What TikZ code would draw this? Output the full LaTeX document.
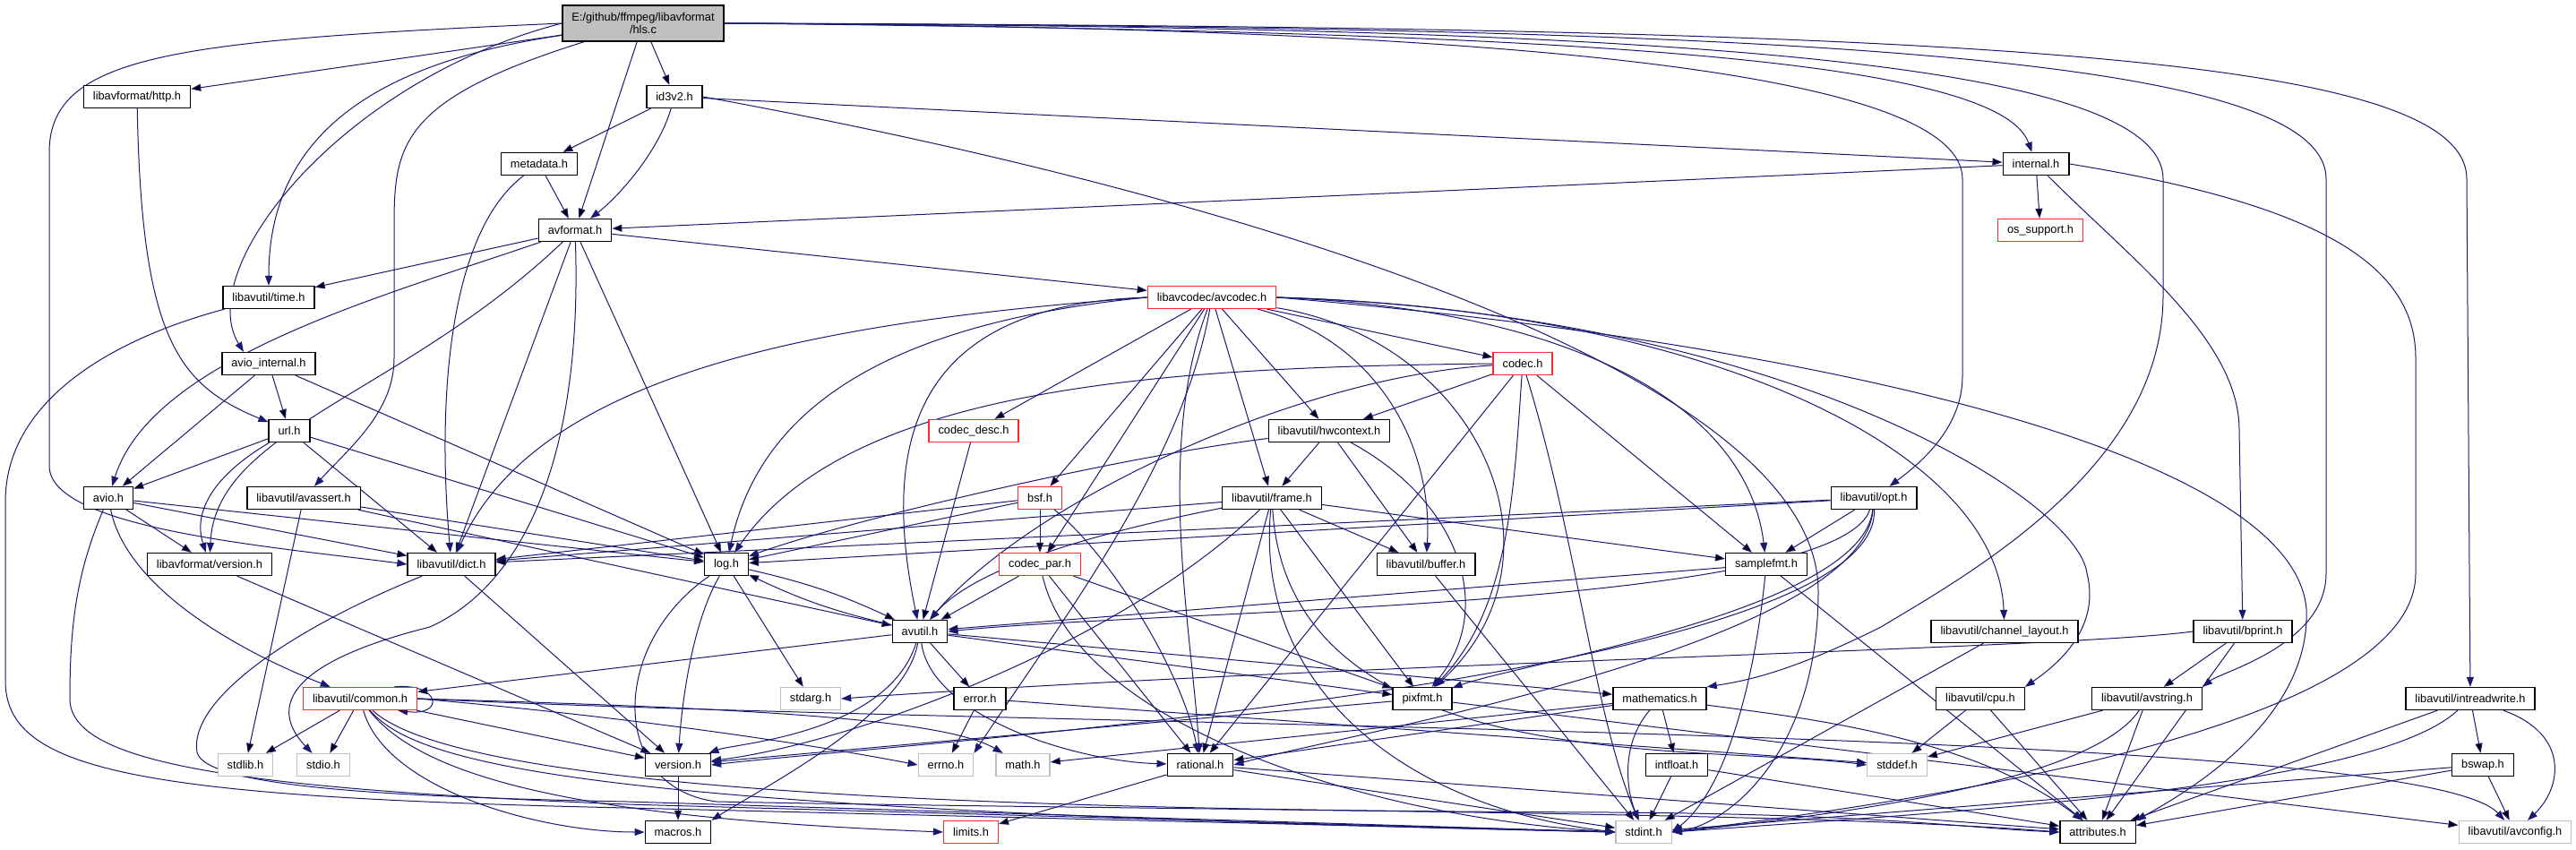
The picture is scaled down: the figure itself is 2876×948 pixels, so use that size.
\documentclass[tikz,border=0pt]{standalone}
\usepackage{fontspec}
\newfontfamily\hfont{Liberation Sans}
\usetikzlibrary{arrows.meta, backgrounds}
\definecolor{cEdge}{RGB}{25,25,112}
\definecolor{cTrunc}{RGB}{255,40,40}
\definecolor{cMiss}{RGB}{191,191,191}
\definecolor{cRoot}{RGB}{191,191,191}

\begin{document}
\begin{tikzpicture}[x=1pt, y=-1pt,
  hdr/.style={draw=black, line width=1.3pt, fill=white, minimum height=25pt,
    inner xsep=10.5pt, inner ysep=0pt, font=\hfont\fontsize{12.8}{14}\selectfont},
  trunc/.style={hdr, draw=cTrunc},
  miss/.style={hdr, draw=cMiss},
  root/.style={hdr, fill=cRoot, minimum height=40pt, align=center},
  dep/.style={draw=cEdge, line width=1pt, -{Triangle[length=11pt,width=8pt]}}]
\useasboundingbox (0,0) rectangle (2876,948);

% header nodes, row by row
\node[root] (hls) at (718,26) {E:/github/ffmpeg/libavformat\\/hls.c};
\node[hdr] (http) at (153,108) {libavformat/http.h};
\node[hdr] (idv) at (753,108) {id3v2.h};
\node[hdr] (meta) at (602,183) {metadata.h};
\node[hdr] (internal) at (2273,183) {internal.h};
\node[hdr] (avformat) at (642,257) {avformat.h};
\node[trunc] (ossupport) at (2278,257) {os\_support.h};
\node[hdr] (time) at (300,332) {libavutil/time.h};
\node[trunc] (avcodec) at (1353,332) {libavcodec/avcodec.h};
\node[hdr] (aviointernal) at (300,406) {avio\_internal.h};
\node[trunc] (codec) at (1700,406) {codec.h};
\node[hdr] (url) at (323,481) {url.h};
\node[trunc] (codecdesc) at (1087,481) {codec\_desc.h};
\node[hdr] (hwcontext) at (1484,481) {libavutil/hwcontext.h};
\node[hdr] (avio) at (121,556) {avio.h};
\node[hdr] (avassert) at (339,556) {libavutil/avassert.h};
\node[trunc] (bsf) at (1161,556) {bsf.h};
\node[hdr] (frame) at (1420,556) {libavutil/frame.h};
\node[hdr] (opt) at (2092,556) {libavutil/opt.h};
\node[hdr] (lavfversion) at (234,630) {libavformat/version.h};
\node[hdr] (dict) at (504,630) {libavutil/dict.h};
\node[hdr] (log) at (811,630) {log.h};
\node[trunc] (codecpar) at (1161,630) {codec\_par.h};
\node[hdr] (buffer) at (1592,630) {libavutil/buffer.h};
\node[hdr] (samplefmt) at (1972,630) {samplefmt.h};
\node[hdr] (avutil) at (1027,705) {avutil.h};
\node[hdr] (channellayout) at (2238,705) {libavutil/channel\_layout.h};
\node[hdr] (bprint) at (2504,705) {libavutil/bprint.h};
\node[trunc] (common) at (402,780) {libavutil/common.h};
\node[miss] (stdarg) at (905,780) {stdarg.h};
\node[hdr] (error) at (1094,780) {error.h};
\node[hdr] (pixfmt) at (1588,780) {pixfmt.h};
\node[hdr] (mathematics) at (1853,780) {mathematics.h};
\node[hdr] (cpu) at (2211,780) {libavutil/cpu.h};
\node[hdr] (avstring) at (2397,780) {libavutil/avstring.h};
\node[hdr] (intreadwrite) at (2758,780) {libavutil/intreadwrite.h};
\node[miss] (stdlib) at (274,854) {stdlib.h};
\node[miss] (stdio) at (361,854) {stdio.h};
\node[hdr] (version) at (757,854) {version.h};
\node[miss] (errno) at (1056,854) {errno.h};
\node[miss] (math) at (1142,854) {math.h};
\node[hdr] (rational) at (1340,854) {rational.h};
\node[hdr] (intfloat) at (1872,854) {intfloat.h};
\node[miss] (stddef) at (2118,854) {stddef.h};
\node[hdr] (bswap) at (2772,854) {bswap.h};
\node[hdr] (macros) at (757,929) {macros.h};
\node[trunc] (limits) at (1084,929) {limits.h};
\node[miss] (stdint) at (1835,929) {stdint.h};
\node[hdr] (attributes) at (2342,929) {attributes.h};
\node[miss] (avconfig) at (2808,929) {libavutil/avconfig.h};

\begin{scope}[on background layer]
% straight includes
\path[dep]
  (hls) edge (http)
  (hls) edge (idv)
  (hls) edge (avformat)
  (idv) edge (meta)
  (idv) edge (internal)
  (meta) edge (avformat)
  (avformat) edge (time)
  (avformat) edge (avcodec)
  (avformat) edge (dict)
  (avformat) edge (log)
  (internal) edge (avformat)
  (internal) edge (ossupport)
  (aviointernal) edge (url)
  (aviointernal) edge (avio)
  (aviointernal) edge (log)
  (url) edge (avio)
  (url) edge (dict)
  (url) edge (log)
  (avio) edge (dict)
  (avio) edge (log)
  (avio) edge (lavfversion)
  (avassert) edge (stdlib)
  (avassert) edge (avutil)
  (avassert) edge (log)
  (lavfversion) edge (version)
  (dict) edge (version)
  (log) edge (stdarg)
  (log) edge[bend left=6] (avutil)
  (avutil) edge[bend left=6] (log)
  (avcodec) edge (frame)
  (avcodec) edge (hwcontext)
  (avcodec) edge (bsf)
  (avcodec) edge (codec)
  (avcodec) edge (codecdesc)
  (avcodec) edge (codecpar)
  (codec) edge (hwcontext)
  (codec) edge (samplefmt)
  (codec) edge (rational)
  (codecdesc) edge (avutil)
  (hwcontext) edge (frame)
  (hwcontext) edge (buffer)
  (bsf) edge (codecpar)
  (bsf) edge (log)
  (bsf) edge (dict)
  (frame) edge (buffer)
  (frame) edge (samplefmt)
  (frame) edge (pixfmt)
  (frame) edge (rational)
  (frame) edge (dict)
  (opt) edge (samplefmt)
  (opt) edge (dict)
  (opt) edge (log)
  (codecpar) edge (avutil)
  (codecpar) edge (rational)
  (codecpar) edge (pixfmt)
  (buffer) edge (stdint)
  (samplefmt) edge (avutil)
  (samplefmt) edge (attributes)
  (avutil) edge (common)
  (avutil) edge (error)
  (avutil) edge (mathematics)
  (avutil) edge (pixfmt)
  (channellayout) edge (stdint)
  (bprint) edge (avstring)
  (bprint) edge (attributes)
  (common) edge (stdlib)
  (common) edge (stdio)
  (common) edge (version)
  (error) edge (errno)
  (error) edge (stddef)
  (pixfmt) edge (version)
  (pixfmt) edge (avconfig)
  (mathematics) edge (math)
  (mathematics) edge (rational)
  (mathematics) edge (intfloat)
  (cpu) edge (stddef)
  (cpu) edge (attributes)
  (avstring) edge (stddef)
  (avstring) edge (attributes)
  (intreadwrite) edge (bswap)
  (intreadwrite) edge (attributes)
  (bswap) edge (stdint)
  (bswap) edge (attributes)
  (bswap) edge (avconfig)
  (rational) edge (limits)
  (rational) edge (stdint)
  (rational) edge (attributes)
  (intfloat) edge (stdint)
  (intfloat) edge (attributes)
  (version) edge (macros);

% routed includes
\draw[dep] (hls.west) .. controls (200,45) and (55,60) .. (55,170) -- (55,520) .. controls (55,590) and (300,610) .. (dict.west);
\draw[dep] (hls) .. controls (420,70) and (300,150) .. (time);
\draw[dep] (hls.west) .. controls (380,90) and (215,300) .. ([xshift=-28pt]aviointernal.north);
\draw[dep] (hls) .. controls (450,110) and (440,160) .. (440,250) -- (440,400) .. controls (440,460) and (390,500) .. (avassert);
\draw[dep] (hls.east) .. controls (1700,35) and (2230,60) .. (internal);
\draw[dep] (hls.east) .. controls (1500,30) and (2191,60) .. (2191,200) -- (2191,420) .. controls (2191,480) and (2140,520) .. (opt);
\draw[dep] (hls.east) .. controls (1800,30) and (2415,60) .. (2415,200) -- (2415,330) .. controls (2415,520) and (2200,640) .. (2100,700) .. controls (2000,750) and (1950,760) .. (mathematics.north east);
\draw[dep] (hls.east) .. controls (2000,30) and (2597,60) .. (2597,200) -- (2597,640) .. controls (2597,720) and (2480,750) .. (avstring.north east);
\draw[dep] (hls.east) .. controls (2200,30) and (2754,60) .. (2754,200) -- (intreadwrite);
\draw[dep] (http) .. controls (158,380) and (200,430) .. (url);
\draw[dep] (idv) .. controls (735,170) and (690,220) .. (avformat);
\draw[dep] (idv.east) .. controls (1400,220) and (2030,420) .. (2030,660) .. controls (2030,840) and (1930,920) .. (stdint.east);
\draw[dep] (meta) .. controls (500,260) and (488,450) .. (dict);
\draw[dep] (avformat) .. controls (430,330) and (170,400) .. (avio);
\draw[dep] (avformat) .. controls (450,440) and (240,480) .. (lavfversion);
\draw[dep] (avformat) .. controls (650,500) and (590,650) .. (480,700) .. controls (320,740) and (300,790) .. (stdio);
\draw[dep] (internal) .. controls (2380,290) and (2500,380) .. (2500,480) -- (bprint);
\draw[dep] (internal.east) .. controls (2600,230) and (2697,300) .. (2697,400) -- (2697,640) .. controls (2697,820) and (2100,900) .. (stdint.east);
\draw[dep] (time) .. controls (120,380) and (6,450) .. (6,560) -- (6,760) .. controls (6,860) and (150,890) .. (700,902) -- (stdint.west);
\draw[dep] (url) .. controls (240,530) and (215,570) .. (lavfversion);
\draw[dep] (avio) .. controls (85,640) and (78,700) .. (78,780) .. controls (78,850) and (250,880) .. (700,898) -- (stdint.west);
\draw[dep] (avio) .. controls (140,650) and (250,720) .. (common);
\draw[dep] (dict) .. controls (330,700) and (210,780) .. (220,840) .. controls (230,880) and (450,890) .. (700,895) -- (stdint.west);
\draw[dep] (log) .. controls (770,700) and (760,800) .. (version);
\draw[dep] (log) .. controls (680,720) and (680,880) .. (800,895) .. controls (1300,905) and (2000,905) .. (attributes.west);
% from avcodec.h
\draw[dep] (avcodec) .. controls (1320,520) and (1180,700) .. (errno.north east);
\draw[dep] (avcodec.east) .. controls (1750,345) and (1950,450) .. (samplefmt);
\draw[dep] (avcodec.east) .. controls (2000,380) and (2560,500) .. (2575,680) .. controls (2580,800) and (2450,880) .. (attributes.north east);
\draw[dep] (avcodec.west) .. controls (1030,340) and (980,480) .. (avutil);
\draw[dep] (avcodec) .. controls (1540,380) and (1600,500) .. (buffer);
\draw[dep] (avcodec.east) .. controls (2000,350) and (2320,560) .. (2330,640) .. controls (2345,700) and (2300,740) .. (cpu.north east);
\draw[dep] (avcodec.east) .. controls (1900,345) and (2230,500) .. (channellayout);
\draw[dep] (avcodec.west) .. controls (900,360) and (600,420) .. (dict);
\draw[dep] (avcodec.west) .. controls (1000,360) and (850,450) .. (log);
\draw[dep] (avcodec) .. controls (1650,380) and (1760,620) .. (pixfmt);
\draw[dep] (avcodec) .. controls (1290,500) and (1330,700) .. (rational);
% from codec.h, hwcontext.h, bsf.h, frame.h
\draw[dep] (codec) .. controls (1450,420) and (1150,560) .. (avutil);
\draw[dep] (codec.west) .. controls (1300,410) and (950,430) .. (log);
\draw[dep] (codec) .. controls (1690,550) and (1685,680) .. (pixfmt);
\draw[dep] (codec) .. controls (1760,600) and (1780,800) .. (stdint);
\draw[dep] (hwcontext) .. controls (1250,510) and (950,580) .. (log);
\draw[dep] (hwcontext) .. controls (1630,560) and (1670,680) .. (pixfmt);
\draw[dep] (bsf) .. controls (1240,620) and (1320,750) .. (rational);
\draw[dep] (frame) .. controls (1300,580) and (1100,620) .. (avutil);
\draw[dep] (frame) .. controls (1250,720) and (950,830) .. (version);
\draw[dep] (frame) .. controls (1440,870) and (1900,830) .. (stddef.west);
\draw[dep] (frame) .. controls (1400,760) and (1560,900) .. (stdint.west);
% from opt.h, codec_par.h, samplefmt.h
\draw[dep] (opt) .. controls (2080,680) and (1700,740) .. (pixfmt);
\draw[dep] (opt) .. controls (2050,680) and (1300,680) .. (avutil.east);
\draw[dep] (opt) .. controls (2080,720) and (1500,820) .. (rational.east);
\draw[dep] (opt) .. controls (2100,760) and (1000,830) .. (version.east);
\draw[dep] (codecpar) .. controls (1200,800) and (1500,910) .. (stdint.west);
\draw[dep] (samplefmt) .. controls (1960,750) and (1930,880) .. (stdint.east);
% from avutil.h
\draw[dep] (avutil) .. controls (990,820) and (820,830) .. (version);
\draw[dep] (avutil) .. controls (1010,800) and (850,880) .. (macros.north east);
\draw[dep] (avutil) .. controls (1040,800) and (1200,850) .. (rational);
% from bprint.h, avstring.h, intreadwrite.h, mathematics.h
\draw[dep] (bprint.west) .. controls (2300,725) and (1500,740) .. (stdarg.east);
\draw[dep] (avstring) .. controls (2330,880) and (2000,915) .. (stdint.east);
\draw[dep] (intreadwrite) .. controls (2870,820) and (2860,880) .. (avconfig);
\draw[dep] (intreadwrite) .. controls (2650,880) and (2200,905) .. (stdint.east);
\draw[dep] (mathematics) .. controls (1810,830) and (1815,880) .. (stdint);
\draw[dep] (mathematics) .. controls (2000,800) and (2200,820) .. (attributes);
% from common.h
\draw[dep] ([xshift=-26pt]common.north east) .. controls (492,762) and (497,800) .. ([xshift=-22pt]common.south east);
\draw[dep] (common) .. controls (430,880) and (600,929) .. (macros.west);
\draw[dep] (common) .. controls (480,880) and (700,915) .. (limits.west);
\draw[dep] (common.east) .. controls (700,800) and (900,830) .. (errno.west);
\draw[dep] (common.east) .. controls (800,790) and (1050,800) .. (math);
\draw[dep] (common) .. controls (470,860) and (700,905) .. (stdint.west);
\draw[dep] (common) .. controls (520,890) and (1200,905) .. (1800,907) .. controls (2100,909) and (2200,925) .. (attributes.west);
\draw[dep] (common.east) .. controls (1200,815) and (2700,810) .. (avconfig);
\end{scope}
\end{tikzpicture}
\end{document}
